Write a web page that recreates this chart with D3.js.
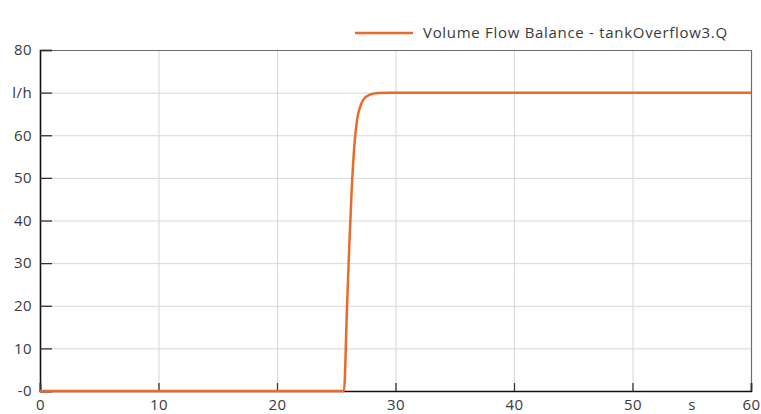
<!DOCTYPE html>
<html>
<head>
<meta charset="utf-8">
<script src="https://cdn.jsdelivr.net/npm/d3@7"></script>
<style>
  body { margin: 0; background: #fff; }
  text { font-family: "Open Sans", sans-serif; fill: #3a3a3a; }
</style>
</head>
<body>
<svg id="chart"></svg>
<script>
// data
const seriesName = "Volume Flow Balance - tankOverflow3.Q";
const timeValues = [0, 25.65, 25.9, 26.1, 26.3, 26.5, 26.75, 27.0, 27.3, 27.8, 28.5, 29.5, 60];
const flowValues = [0, 0, 19, 34, 47, 56.5, 63.5, 66.5, 68.4, 69.5, 69.9, 70, 70];
const xTicks = [0, 10, 20, 30, 40, 50, 60];
const yTicks = [0, 10, 20, 30, 40, 50, 60, 70, 80];
const xUnit = "s";
const yUnit = "l/h";

const WIDTH = 761;
const HEIGHT = 414;
const PADDING = { LEFT: 40, RIGHT: 10, TOP: 50, BOTTOM: 23 };

let svg = d3.select("#chart")
  .attr("width", WIDTH)
  .attr("height", HEIGHT);

let xScale = d3.scaleLinear()
  .domain([0, 60])
  .range([PADDING.LEFT, WIDTH - PADDING.RIGHT]);
let yScale = d3.scaleLinear()
  .domain([0, 80])
  .range([HEIGHT - PADDING.BOTTOM, PADDING.TOP]);

// grid lines
svg.append("g")
  .selectAll("line")
  .data(yTicks.slice(1, -1))
  .enter()
  .append("line")
    .attr("x1", PADDING.LEFT)
    .attr("x2", WIDTH - PADDING.RIGHT)
    .attr("y1", d => yScale(d) + 0.5)
    .attr("y2", d => yScale(d) + 0.5)
    .attr("stroke", "#ddd6d4");
svg.append("g")
  .selectAll("line")
  .data(xTicks.slice(1, -1))
  .enter()
  .append("line")
    .attr("x1", d => xScale(d) + 0.5)
    .attr("x2", d => xScale(d) + 0.5)
    .attr("y1", PADDING.TOP)
    .attr("y2", HEIGHT - PADDING.BOTTOM)
    .attr("stroke", "#d8d6d6");

// frame top / right
svg.append("path")
  .attr("d", `M${xScale(0)},${yScale(80) + 0.5}H${xScale(60) + 0.5}V${yScale(0)}`)
  .attr("fill", "none")
  .attr("stroke", "#6e6e6e")
  .attr("stroke-width", 1.2);

// left axis
let yAxis = svg.append("g")
  .attr("transform", `translate(${PADDING.LEFT},0)`)
  .call(d3.axisRight(yScale).tickValues(yTicks).tickSize(12)
    .tickFormat(d => d === 70 ? yUnit : d === 0 ? "-0" : d));
yAxis.select(".domain").attr("stroke", "#111").attr("stroke-width", 1.6);
yAxis.selectAll(".tick line").attr("stroke", "#333").attr("stroke-width", 1.3);
yAxis.selectAll(".tick text")
  .attr("x", -8)
  .attr("text-anchor", "end")
  .style("font-size", "15px")
  .style("letter-spacing", "0.4px")
  .style("fill", "#3a3a3a");

// bottom axis
let xAxis = svg.append("g")
  .attr("transform", `translate(0,${HEIGHT - PADDING.BOTTOM})`)
  .call(d3.axisTop(xScale).tickValues(xTicks).tickSize(8).tickFormat(d3.format("")));
xAxis.select(".domain").attr("stroke", "#111").attr("stroke-width", 1.6);
xAxis.selectAll(".tick line").attr("stroke", "#333").attr("stroke-width", 1.3);
xAxis.selectAll(".tick text")
  .attr("y", 19)
  .attr("dy", "0")
  .style("font-size", "15px")
  .style("letter-spacing", "0.4px")
  .style("fill", "#3a3a3a");
svg.append("text")
  .attr("x", xScale(55))
  .attr("y", HEIGHT - PADDING.BOTTOM + 19)
  .attr("text-anchor", "middle")
  .style("font-size", "15px")
  .text(xUnit);

// series
let data = timeValues.map((t, i) => ({ t: t, v: flowValues[i] }));
let line = d3.line()
  .x(d => xScale(d.t))
  .y(d => yScale(d.v))
  .curve(d3.curveMonotoneX);
svg.append("path")
  .datum(data)
  .attr("d", line)
  .attr("fill", "none")
  .attr("stroke", "#ea6a2c")
  .attr("stroke-width", 2.5);

// legend
svg.append("line")
  .attr("x1", 355)
  .attr("x2", 413)
  .attr("y1", 33)
  .attr("y2", 33)
  .attr("stroke", "#ea6a2c")
  .attr("stroke-width", 2.5);
svg.append("text")
  .attr("x", 423)
  .attr("y", 38)
  .style("font-size", "15px")
  .style("letter-spacing", "0.7px")
  .text(seriesName);
</script>
</body>
</html>
